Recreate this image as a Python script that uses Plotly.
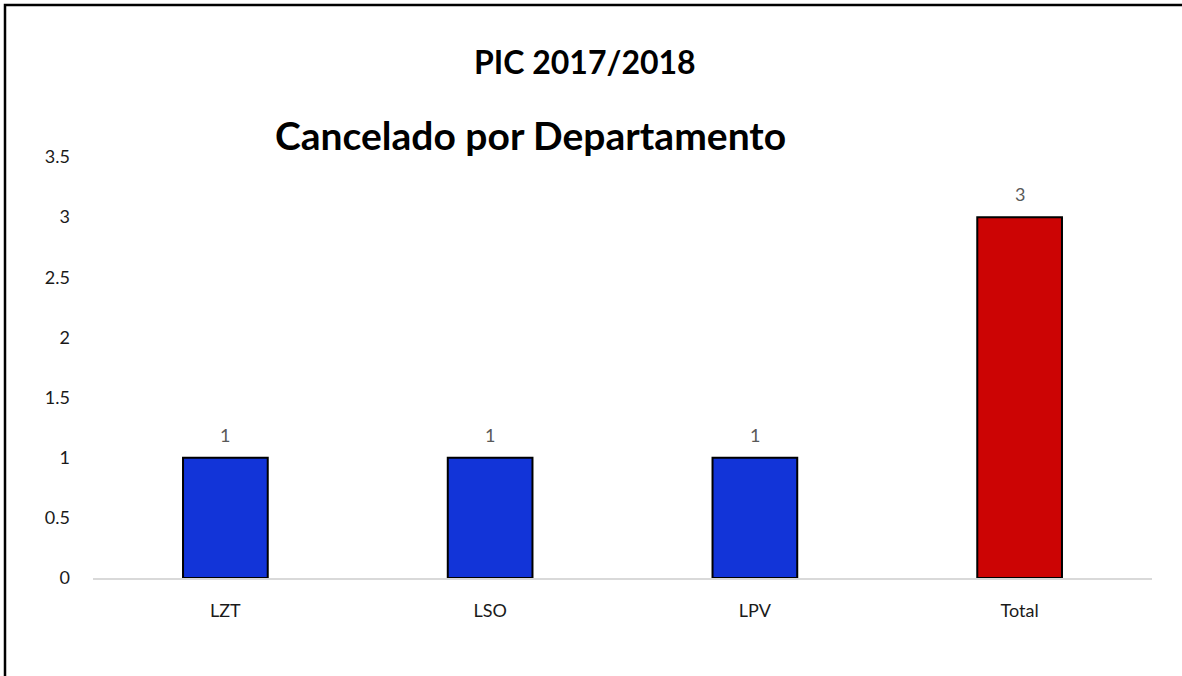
import plotly.graph_objects as go

categories = ["LZT", "LSO", "LPV", "Total"]
values = [1, 1, 1, 3]
bar_colors = ["#1234D8", "#1234D8", "#1234D8", "#CC0404"]
y_ticks = [0, 0.5, 1, 1.5, 2, 2.5, 3, 3.5]
title_main = "PIC 2017/2018"
title_sub = "Cancelado por Departamento"

W, H = 1182, 676
ml, mr, mt, mb = 93, 30, 157, 98
pw, ph = W - ml - mr, H - mt - mb

def px_x(p):
    return (p - ml) / pw

def px_y(p):
    return (H - mb - p) / ph

fig = go.Figure(go.Bar(
    x=categories, y=values,
    marker=dict(color=bar_colors, line=dict(color="#000000", width=2)),
    width=0.32,
    hoverinfo="x+y",
))

value_labels = [
    dict(x=c, y=v, text=str(v), xref="x", yref="y", showarrow=False,
         yanchor="bottom", yshift=10,
         font=dict(color="#595959", size=18, family="Lato"))
    for c, v in zip(categories, values)
]

tick_font = dict(family="Lato", size=18, color="#1a1a1a")

fig.update_layout(
    width=W, height=H,
    margin=dict(l=ml, r=mr, t=mt, b=mb),
    paper_bgcolor="white", plot_bgcolor="white",
    font=dict(family="Lato", size=18, color="#1a1a1a"),
    showlegend=False,
    xaxis=dict(showline=True, linecolor="#D9D9D9", linewidth=1.5, ticks="",
               showgrid=False, ticklabelstandoff=16, tickfont=tick_font),
    yaxis=dict(range=[0, 3.5], tickvals=y_ticks, ticktext=[f"{t:g}" for t in y_ticks],
               showgrid=False, zeroline=False, showline=False, ticklabelstandoff=22,
               tickfont=tick_font),
    annotations=value_labels + [
        dict(text=f"<b>{title_main}</b>", xref="paper", yref="paper",
             x=px_x(585), y=px_y(40), showarrow=False,
             font=dict(size=32, family="Lato", color="#000000")),
        dict(text=f"<b>{title_sub}</b>", xref="paper", yref="paper",
             x=px_x(530), y=px_y(110), showarrow=False,
             font=dict(size=39, family="Lato", color="#000000")),
    ],
    shapes=[dict(type="rect", xref="paper", yref="paper",
                 x0=px_x(5), x1=px_x(1195), y0=px_y(690), y1=px_y(5),
                 line=dict(color="#000000", width=2.5))],
)

fig.write_html("out.html", config={"displayModeBar": False},
               post_script="document.body.style.margin='0px';")
